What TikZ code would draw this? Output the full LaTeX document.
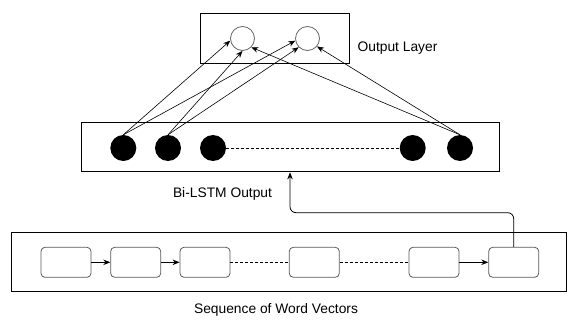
\documentclass[tikz,border=0pt]{standalone}
\usepackage{fontspec}
\setmainfont{Liberation Sans}
\usetikzlibrary{arrows.meta}

\begin{document}
\begin{tikzpicture}[x=1pt,y=-1pt,
    every node/.style={font=\fontsize{13.8}{16}\selectfont},
    layer/.style={draw,line width=0.9pt,inner sep=0pt},
    hidden/.style={circle,fill=black,minimum size=26pt,inner sep=0pt},
    outunit/.style={circle,draw=black!60,fill=white,minimum size=24pt,inner sep=0pt,line width=0.8pt},
    wordvec/.style={draw=black!65,rounded corners=4pt,minimum width=50pt,minimum height=30pt,inner sep=0pt,line width=0.8pt},
    >={Stealth[length=7pt,width=5.5pt]}]
  \useasboundingbox (0,0) rectangle (569,320);

  % layer frames
  \draw
    (274.5,38) node[layer,minimum width=149pt,minimum height=50pt] (outbox){}
    (290,147.4) node[layer,minimum width=418pt,minimum height=49pt] (lstmbox){}
    (289.4,262.2) node[layer,minimum width=555pt,minimum height=59pt] (wordbox){};

  % units
  \draw
    (242.5,38.5) node[outunit] (o1){}
    (307.5,38.5) node[outunit] (o2){}
    (123.3,148) node[hidden] (h1){}
    (168,148) node[hidden] (h2){}
    (213,148) node[hidden] (h3){}
    (412.7,148) node[hidden] (h4){}
    (460,148) node[hidden] (h5){}
    (66,262.3) node[wordvec] (w1){}
    (135.7,262.3) node[wordvec] (w2){}
    (205,262.3) node[wordvec] (w3){}
    (314.3,262.3) node[wordvec] (w4){}
    (434,262.3) node[wordvec] (w5){}
    (513.7,262.3) node[wordvec] (w6){};

  % labels
  \draw
    (397.5,48.5) node (outlabel){Output Layer}
    (222.5,193.5) node (lstmlabel){Bi-LSTM Output}
    (276,310) node (wordlabel){Sequence of Word Vectors};

  \begin{scope}[->,line width=0.6pt]
    \draw (h1.north) to (o1.190);
    \draw (h1.north) to (o2.190);
    \draw (h2.north) to (o1.south);
    \draw (h2.north) to (o2.225);
    \draw (h5.north) to (o1.315);
    \draw (h5.north) to (o2.320);
  \end{scope}

  \begin{scope}[->,line width=0.8pt]
    \draw (w1) to (w2);
    \draw (w2) to (w3);
    \draw (w5) to (w6);
  \end{scope}

  \begin{scope}[dashed,dash pattern=on 3pt off 2pt,line width=0.7pt]
    \draw (h3) to (h4);
    \draw (w3) to (w4);
    \draw (w4) to (w5);
  \end{scope}

  % feed from the last word vector up to the Bi-LSTM
  \coordinate (turn) at (290,212.7);
  \draw[->,line width=0.8pt,rounded corners=6pt] (w6.north) |- (turn) -- (turn |- lstmbox.south);
\end{tikzpicture}
\end{document}
